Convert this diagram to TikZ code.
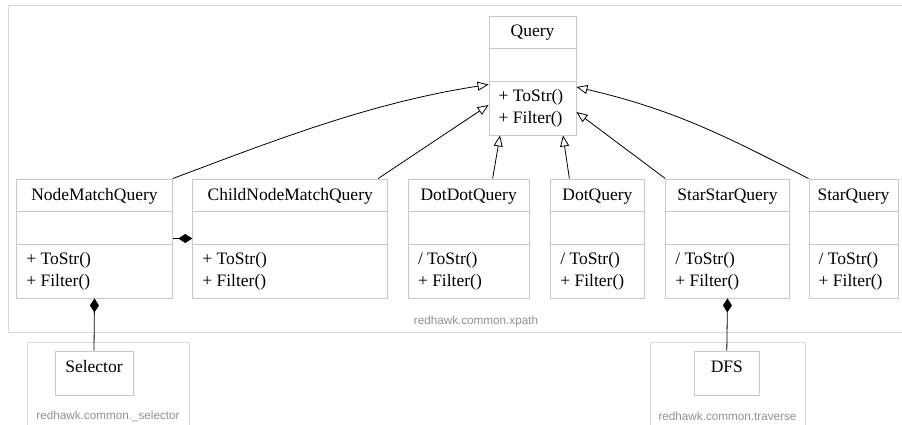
\documentclass[tikz,border=0pt]{standalone}
\usepackage{fontspec}
\setmainfont{Liberation Serif}
\setsansfont{Liberation Sans}
\usetikzlibrary{arrows.meta,fit,calc}

\definecolor{boxgray}{HTML}{C8C8C8}
\definecolor{pkggray}{HTML}{D8D8D8}
\definecolor{pkgtext}{HTML}{909090}

\tikzset{
  classbox/.style={draw=boxgray, line width=0.9pt, inner sep=0pt, fill=none},
  boxline/.style={draw=boxgray, line width=0.9pt},
  pkgframe/.style={draw=pkggray, line width=1pt},
  pkglabel/.style={font=\sffamily\fontsize{11.7}{13}\selectfont, text=pkgtext, inner sep=0pt},
  ctext/.style={font=\fontsize{17.5}{20}\selectfont, inner sep=0pt},
  inherit/.style={draw=black, line width=0.8pt, -{Triangle[open, length=11pt, width=9pt, fill=white]}},
  compose/.style={draw=black, line width=0.8pt, {Diamond[length=14pt, width=9pt]}-},
}

% class box: name, left, right, top, title, prefix of ToStr
\newcommand\umlclass[6]{%
  \coordinate (#1-nw) at (#2,#4);
  \coordinate (#1-se) at (#3,#4+119);
  \node[classbox, fit=(#1-nw)(#1-se)] (#1) {};
  \draw[boxline] (#2,#4+32.5) -- (#3,#4+32.5);
  \draw[boxline] (#2,#4+65) -- (#3,#4+65);
  \node[ctext, anchor=base] (#1-title) at ({(#2+#3)/2},#4+21) {#5};
  \node[ctext, anchor=base west] (#1-op1) at (#2+9.5,#4+85.5) {#6 ToStr()};
  \node[ctext, anchor=base west] (#1-op2) at (#2+9.5,#4+107.5) {+ Filter()};
}
% simple box with a title only
\newcommand\umlsimple[5]{%
  \coordinate (#1-nw) at (#2,#4);
  \coordinate (#1-se) at (#3,#4+44);
  \node[classbox, fit=(#1-nw)(#1-se)] (#1) {};
  \node[ctext, anchor=base] (#1-title) at ({(#2+#3)/2},#4+21) {#5};
}

\begin{document}
\begin{tikzpicture}[x=1pt, y=-1pt]
  \useasboundingbox (0,0) rectangle (902,425);

  % packages
  \draw[pkgframe] (903,6) -- (8,6) -- (8,332) -- (903,332);
  \node[pkglabel] (pxpath) at (476,321) {redhawk.common.xpath};
  \draw[pkgframe] (27,430) -- (27,342) -- (189,342) -- (189,430);
  \node[pkglabel] (psel) at (108,416) {redhawk.common.\_selector};
  \draw[pkgframe] (650,430) -- (650,342) -- (805,342) -- (805,430);
  \node[pkglabel] (ptrav) at (727.5,416) {redhawk.common.traverse};

  % classes
  \umlclass{query}{489}{576}{16}{Query}{+}
  \umlclass{nmq}{16.7}{172.3}{179}{NodeMatchQuery}{+}
  \umlclass{cnmq}{192.7}{387.7}{179}{ChildNodeMatchQuery}{+}
  \umlclass{ddq}{408.3}{529}{179}{DotDotQuery}{/}
  \umlclass{dq}{550.7}{644}{179}{DotQuery}{/}
  \umlclass{ssq}{665.7}{789.3}{179}{StarStarQuery}{/}
  \umlclass{sq}{809}{898}{179}{StarQuery}{/}
  \umlsimple{sel}{55}{133}{351}{Selector}
  \umlsimple{dfs}{694.3}{759.3}{351}{DFS}

  % generalisations
  \draw[inherit] (nmq.north east) .. controls (273,141) and (369,103) .. ([yshift=-9pt]query.west);
  \draw[inherit] ([xshift=-10pt]cnmq.north east) -- ([yshift=-29.5pt]query.west);
  \draw[inherit] ([xshift=24pt]ddq.north) -- ([xshift=-32.5pt]query.south);
  \draw[inherit] ([xshift=-28pt]dq.north) -- ([xshift=30.5pt]query.south);
  \draw[inherit] (ssq.north west) -- ([yshift=-36.5pt]query.east);
  \draw[inherit] (sq.north west) .. controls (729,138) and (676,110) .. ([yshift=-11.5pt]query.east);

  % compositions
  \draw[compose] (cnmq.west) -- (nmq.east);
  \draw[compose] (nmq.south) -- (sel.north);
  \draw[compose] (ssq.south) -- (dfs.north);
\end{tikzpicture}
\end{document}
